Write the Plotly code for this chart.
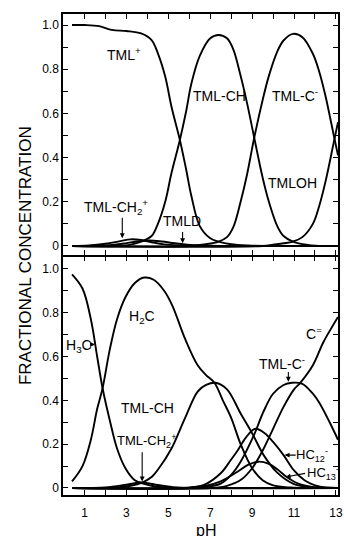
import plotly.graph_objects as go

# ---------------- upper panel: TML species vs pH ----------------
ph_tml_plus = [0.4, 1.0, 1.7, 2.3, 3.0, 3.7, 4.2, 4.5, 4.85, 5.15, 5.55, 5.85, 6.1, 6.5, 7.0, 7.4, 8.0, 8.8, 9.6, 13.1]
tml_plus = [1.0, 1.0, 0.995, 0.978, 0.973, 0.962, 0.932, 0.872, 0.767, 0.63, 0.48, 0.346, 0.226, 0.09, 0.035, 0.02, 0.008, 0.002, 0.0, 0.0]

ph_tml_ch = [0.4, 2.5, 3.2, 3.7, 4.2, 4.5, 4.85, 5.15, 5.55, 5.85, 6.1, 6.5, 7.0, 7.4, 7.8, 8.1, 8.45, 8.75, 9.1, 9.5, 9.8, 10.2, 10.5, 10.95, 11.5, 12.2, 13.1]
tml_ch = [0.0, 0.0, 0.006, 0.02, 0.045, 0.1, 0.2, 0.33, 0.48, 0.61, 0.735, 0.86, 0.94, 0.955, 0.94, 0.89, 0.77, 0.65, 0.49, 0.31, 0.2, 0.09, 0.045, 0.02, 0.007, 0.0, 0.0]

ph_tml_c = [0.4, 6.0, 6.8, 7.4, 7.8, 8.1, 8.45, 8.75, 9.1, 9.5, 9.8, 10.2, 10.5, 10.95, 11.4, 11.9, 12.2, 12.5, 12.9, 13.1]
tml_c = [0.0, 0.0, 0.008, 0.02, 0.04, 0.085, 0.2, 0.32, 0.49, 0.66, 0.77, 0.88, 0.93, 0.96, 0.945, 0.87, 0.79, 0.68, 0.5, 0.41]

ph_tml_oh = [0.4, 9.5, 10.0, 10.5, 10.95, 11.4, 11.9, 12.2, 12.5, 12.9, 13.1]
tml_oh = [0.0, 0.0, 0.006, 0.012, 0.02, 0.04, 0.1, 0.18, 0.29, 0.47, 0.56]

ph_tml_ch2 = [0.4, 1.2, 2.0, 2.7, 3.2, 3.7, 4.2, 4.8, 5.5, 6.5, 13.1]
tml_ch2 = [0.0, 0.002, 0.01, 0.022, 0.03, 0.027, 0.017, 0.007, 0.002, 0.0, 0.0]

ph_tmld = [0.4, 2.0, 2.8, 3.5, 4.1, 4.7, 5.3, 5.9, 6.6, 7.5, 13.1]
tmld = [0.0, 0.002, 0.01, 0.02, 0.025, 0.02, 0.012, 0.006, 0.002, 0.0, 0.0]

# ---------------- lower panel: ligand species vs pH ----------------
ph_h3c = [0.4, 0.9, 1.3, 1.6, 1.86, 2.2, 2.55, 2.95, 3.4, 3.8, 4.3, 5.0, 6.0, 13.1]
h3c = [0.975, 0.91, 0.77, 0.6, 0.455, 0.31, 0.18, 0.09, 0.035, 0.02, 0.008, 0.002, 0.0, 0.0]

ph_h2c = [0.4, 0.9, 1.3, 1.6, 1.86, 2.2, 2.55, 2.95, 3.4, 3.85, 4.3, 4.8, 5.2, 5.8, 6.4, 6.8, 7.2, 7.6, 8.0, 8.45, 9.0, 9.5, 10.0, 10.8, 11.5, 13.1]
h2c = [0.03, 0.1, 0.22, 0.36, 0.455, 0.63, 0.77, 0.87, 0.935, 0.96, 0.95, 0.9, 0.83, 0.68, 0.56, 0.515, 0.48, 0.4, 0.32, 0.2, 0.09, 0.035, 0.012, 0.002, 0.0, 0.0]

ph_tml_ch2_b = [0.4, 2.0, 3.0, 3.7, 4.4, 5.2, 6.0, 13.1]
tml_ch2_b = [0.0, 0.003, 0.015, 0.025, 0.015, 0.004, 0.0, 0.0]

ph_tml_ch_b = [0.4, 2.5, 3.2, 3.75, 4.2, 4.55, 5.15, 5.8, 6.4, 6.8, 7.25, 7.8, 8.45, 9.0, 9.55, 10.2, 10.95, 11.6, 12.5, 13.1]
tml_ch_b = [0.0, 0.002, 0.01, 0.025, 0.05, 0.09, 0.18, 0.32, 0.44, 0.47, 0.48, 0.45, 0.34, 0.25, 0.15, 0.07, 0.02, 0.005, 0.0, 0.0]

ph_hc12 = [0.4, 5.5, 6.2, 6.7, 7.5, 8.0, 8.3, 8.7, 9.15, 9.6, 10.0, 10.5, 11.0, 11.5, 12.0, 12.6, 13.1]
hc12 = [0.0, 0.0, 0.005, 0.014, 0.067, 0.13, 0.17, 0.23, 0.27, 0.25, 0.21, 0.15, 0.08, 0.035, 0.012, 0.002, 0.0]

ph_hc13 = [0.4, 6.0, 6.8, 7.5, 8.3, 8.8, 9.3, 9.8, 10.2, 10.65, 11.2, 11.8, 12.5, 13.1]
hc13 = [0.0, 0.0, 0.01, 0.03, 0.074, 0.105, 0.12, 0.11, 0.085, 0.05, 0.02, 0.006, 0.0, 0.0]

ph_tml_c_b = [0.4, 6.0, 6.8, 7.5, 8.0, 8.45, 9.08, 9.55, 10.0, 10.5, 10.9, 11.4, 11.9, 12.2, 12.7, 13.1]
tml_c_b = [0.0, 0.0, 0.005, 0.02, 0.06, 0.12, 0.24, 0.35, 0.43, 0.47, 0.48, 0.475, 0.43, 0.39, 0.3, 0.22]

ph_c2 = [0.4, 7.0, 7.8, 8.5, 9.0, 9.5, 10.0, 10.5, 11.0, 11.3, 11.9, 12.4, 12.85, 13.1]
c2 = [0.0, 0.0, 0.01, 0.04, 0.09, 0.17, 0.27, 0.37, 0.45, 0.48, 0.56, 0.665, 0.74, 0.78]

# axis ticks
x_ticks = list(range(1, 14))
x_ticktext = [str(v) if v % 2 == 1 else "" for v in x_ticks]
y_ticks = [i / 10 for i in range(11)]
y_ticktext = ["0", "", "0.2", "", "0.4", "", "0.6", "", "0.8", "", "1.0"]

FONT = "Liberation Sans, Arial, sans-serif"
INK = "black"

upper = [
    ("TML+", ph_tml_plus, tml_plus),
    ("TML-CH", ph_tml_ch, tml_ch),
    ("TML-C-", ph_tml_c, tml_c),
    ("TMLOH", ph_tml_oh, tml_oh),
    ("TML-CH2+", ph_tml_ch2, tml_ch2),
    ("TMLD", ph_tmld, tmld),
]
lower = [
    ("H3C", ph_h3c, h3c),
    ("H2C", ph_h2c, h2c),
    ("TML-CH2+", ph_tml_ch2_b, tml_ch2_b),
    ("TML-CH", ph_tml_ch_b, tml_ch_b),
    ("HC12-", ph_hc12, hc12),
    ("HC13-", ph_hc13, hc13),
    ("TML-C-", ph_tml_c_b, tml_c_b),
    ("C=", ph_c2, c2),
]

fig = go.Figure()
for name, xs, ys in upper:
    fig.add_trace(go.Scatter(x=xs, y=ys, name=name, mode="lines", xaxis="x", yaxis="y",
                             line=dict(color=INK, width=1.9, shape="spline", smoothing=1.0),
                             showlegend=False, hoverinfo="skip"))
for name, xs, ys in lower:
    fig.add_trace(go.Scatter(x=xs, y=ys, name=name, mode="lines", xaxis="x2", yaxis="y2",
                             line=dict(color=INK, width=1.9, shape="spline", smoothing=1.0),
                             showlegend=False, hoverinfo="skip"))

LW = 1.5
axis_common = dict(showline=True, linecolor=INK, linewidth=LW, mirror="ticks",
                   ticks="inside", ticklen=5, tickwidth=1.2, tickcolor=INK,
                   showgrid=False, zeroline=False, ticklabeloverflow="allow",
                   tickfont=dict(family=FONT, size=12, color=INK))

# the two panels share one divider line: leave a gap of one line width so the
# upper panel's bottom line and the lower panel's top line land on the same pixels
plot_h = 536 - 14 - 41
split = 0.4969
gap = LW / plot_h
fig.update_layout(
    width=344, height=536,
    margin=dict(l=63, r=1, t=14, b=41),
    paper_bgcolor="white", plot_bgcolor="white",
    font=dict(family=FONT, color=INK),
    xaxis=dict(axis_common, domain=[0, 1], anchor="y", range=[-0.03, 13.1],
               tickvals=x_ticks, showticklabels=False),
    yaxis=dict(axis_common, domain=[split + gap / 2, 1], anchor="x", range=[-0.042, 1.05],
               tickvals=y_ticks, ticktext=y_ticktext),
    xaxis2=dict(axis_common, domain=[0, 1], anchor="y2", range=[-0.03, 13.1],
                tickvals=x_ticks, ticktext=x_ticktext, ticklabelstandoff=6),
    yaxis2=dict(axis_common, domain=[0, split - gap / 2], anchor="x2", range=[-0.032, 1.055],
                tickvals=y_ticks, ticktext=y_ticktext),
)

LBL = dict(family=FONT, size=14, color=INK)


def label(text, x, y, panel=1, size=14):
    sx = "" if panel == 1 else "2"
    fig.add_annotation(text=text, x=x, y=y, xref="x" + sx, yref="y" + sx,
                       showarrow=False, font=dict(LBL, size=size))


def arrow(x0, y0, x1, y1, panel=1, head=2):
    sx = "" if panel == 1 else "2"
    fig.add_annotation(text="", x=x1, y=y1, ax=x0, ay=y0,
                       xref="x" + sx, yref="y" + sx, axref="x" + sx, ayref="y" + sx,
                       showarrow=True, arrowhead=head, arrowsize=0.9, arrowwidth=1.1,
                       arrowcolor=INK)


# upper panel labels
label("TML<sup>+</sup>", 2.9, 0.87)
label("TML-CH", 7.45, 0.677)
label("TML-C<sup>-</sup>", 11.03, 0.684)
label("TMLOH", 10.93, 0.286)
label("TML-CH<sub>2</sub><sup>+</sup>", 2.49, 0.175)
arrow(2.8, 0.135, 2.8, 0.035)
label("TMLD", 5.63, 0.113)
arrow(5.68, 0.07, 5.68, 0.012)

# lower panel labels
label("H<sub>3</sub>C", 0.72, 0.65, 2)
arrow(1.3, 0.655, 1.5, 0.655, 2)
label("H<sub>2</sub>C", 3.75, 0.78, 2)
label("TML-CH", 4.0, 0.366, 2)
label("TML-CH<sub>2</sub><sup>+</sup>", 3.94, 0.215, 2, size=13)
arrow(3.75, 0.17, 3.75, 0.03, 2)
label("TML-C<sup>-</sup>", 10.41, 0.57, 2)
arrow(10.73, 0.536, 10.73, 0.485, 2)
label("C<sup>=</sup>", 11.97, 0.707, 2)
label("HC<sub>12</sub><sup>-</sup>", 11.87, 0.15, 2, size=13)
arrow(11.15, 0.15, 10.55, 0.15, 2)
label("HC<sub>13</sub><sup>-</sup>", 12.36, 0.068, 2, size=13)
arrow(11.6, 0.068, 10.6, 0.05, 2)

# shared axis titles
fig.add_annotation(text="FRACTIONAL CONCENTRATION", xref="paper", yref="paper",
                   x=-0.136, y=0.498, textangle=-90, showarrow=False,
                   xanchor="center", yanchor="middle",
                   font=dict(family=FONT, size=17, color=INK))
fig.add_annotation(text="pH", xref="x2", yref="paper", x=6.8, y=-0.0728,
                   showarrow=False, xanchor="center", yanchor="middle",
                   font=dict(family=FONT, size=16, color=INK))

fig.write_html("out.html")
